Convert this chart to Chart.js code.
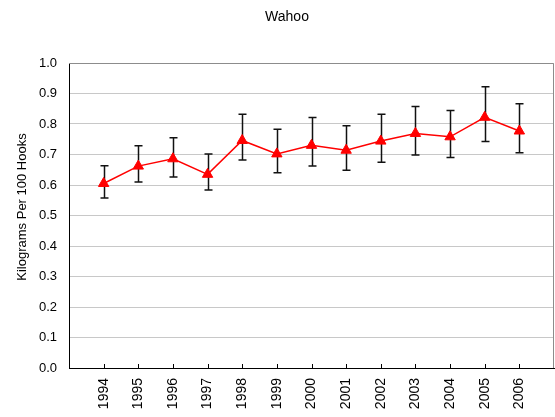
<!DOCTYPE html>
<html>
<head>
<meta charset="utf-8">
<script src="https://cdn.jsdelivr.net/npm/chart.js@4"></script>
<style>
    html, body { margin: 0; padding: 0; background: #fff; }
</style>
</head>
<body>
<canvas id="wahooChart" width="555" height="417"></canvas>
<script>
// Values
const years = ['1994', '1995', '1996', '1997', '1998', '1999', '2000', '2001', '2002', '2003', '2004', '2005', '2006'];
const cpue = [0.605, 0.662, 0.686, 0.635, 0.746, 0.702, 0.730, 0.714, 0.744, 0.769, 0.758, 0.822, 0.777];
const errLow = [0.557, 0.610, 0.626, 0.584, 0.682, 0.640, 0.662, 0.648, 0.675, 0.698, 0.690, 0.743, 0.706];
const errHigh = [0.663, 0.729, 0.755, 0.702, 0.832, 0.783, 0.821, 0.794, 0.832, 0.857, 0.844, 0.922, 0.866];

const chartTitle = 'Wahoo';
const yTitle = 'Kilograms Per 100 Hooks';

// Empty slot at each end, like the original axis
const labels = [''].concat(years, ['']);
const values = [null].concat(cpue, [null]);

const FONT = 'Liberation Sans, Arial, sans-serif';

// Frame, inward x tick marks, error bars and the two titles
const extras = {
    id: 'extras',
    beforeDatasetsDraw(chart) {
        const ctx = chart.ctx;
        const area = chart.chartArea;
        const x = chart.scales.x;
        const y = chart.scales.y;
        ctx.save();

        // grey top and right border
        ctx.strokeStyle = '#8c8c8c';
        ctx.lineWidth = 1;
        ctx.beginPath();
        ctx.moveTo(area.left, Math.round(area.top) + 0.5);
        ctx.lineTo(Math.round(area.right) - 0.5, Math.round(area.top) + 0.5);
        ctx.lineTo(Math.round(area.right) - 0.5, area.bottom);
        ctx.stroke();

        // tick marks pointing into the plot
        ctx.strokeStyle = '#000';
        ctx.beginPath();
        for (let i = 1; i <= years.length; i++) {
            const px = Math.round(x.getPixelForValue(i)) + 0.5;
            ctx.moveTo(px, area.bottom);
            ctx.lineTo(px, area.bottom - 4);
        }
        ctx.stroke();

        // error bars
        ctx.strokeStyle = '#111';
        ctx.lineWidth = 1.5;
        ctx.beginPath();
        for (let i = 0; i < years.length; i++) {
            const px = Math.round(x.getPixelForValue(i + 1)) + 0.5;
            const top = y.getPixelForValue(errHigh[i]);
            const bot = y.getPixelForValue(errLow[i]);
            ctx.moveTo(px, top);
            ctx.lineTo(px, bot);
            ctx.moveTo(px - 4, top);
            ctx.lineTo(px + 4, top);
            ctx.moveTo(px - 4, bot);
            ctx.lineTo(px + 4, bot);
        }
        ctx.stroke();
        ctx.restore();
    },
    afterDraw(chart) {
        const ctx = chart.ctx;
        ctx.save();
        ctx.fillStyle = '#000';
        ctx.textAlign = 'center';
        ctx.textBaseline = 'middle';

        ctx.font = '14px ' + FONT;
        ctx.fillText(chartTitle, 287, 17);

        ctx.font = '13px ' + FONT;
        ctx.translate(22, 207);
        ctx.rotate(-Math.PI / 2);
        ctx.fillText(yTitle, 0, 0);
        ctx.restore();
    }
};

const ctx = document.getElementById('wahooChart').getContext('2d');
const chart = new Chart(ctx, {
    type: 'line',
    data: {
        labels: labels,
        datasets: [{
            label: chartTitle,
            data: values,
            borderColor: '#ff0000',
            backgroundColor: '#ff0000',
            borderWidth: 1.5,
            pointStyle: 'triangle',
            pointRadius: 6,
            pointHoverRadius: 6,
            pointBackgroundColor: '#ff0000',
            pointBorderColor: '#ff0000',
            pointBorderWidth: 1,
            tension: 0,
            spanGaps: false
        }]
    },
    options: {
        responsive: false,
        animation: false,
        events: [],
        layout: {
            autoPadding: false,
            padding: { left: 0, right: 1, top: 63, bottom: 0 }
        },
        plugins: {
            legend: { display: false },
            tooltip: { enabled: false },
            title: { display: false }
        },
        scales: {
            x: {
                type: 'category',
                offset: false,
                grid: { display: false, drawTicks: false },
                border: { color: '#000', width: 1 },
                ticks: {
                    autoSkip: false,
                    minRotation: 90,
                    maxRotation: 90,
                    padding: 10,
                    color: '#000',
                    font: { family: FONT, size: 14 }
                },
                afterFit: function(scale) {
                    scale.height = 49;
                    scale.paddingLeft = 0;
                    scale.paddingRight = 0;
                }
            },
            y: {
                min: 0,
                max: 1,
                grid: { color: '#c8c8c8', drawTicks: false },
                border: { color: '#000', width: 1 },
                ticks: {
                    stepSize: 0.1,
                    padding: 12,
                    color: '#000',
                    font: { family: FONT, size: 13 },
                    callback: function(v) { return v.toFixed(1); }
                },
                afterFit: function(scale) { scale.width = 69; }
            }
        }
    },
    plugins: [extras]
});
</script>
</body>
</html>
